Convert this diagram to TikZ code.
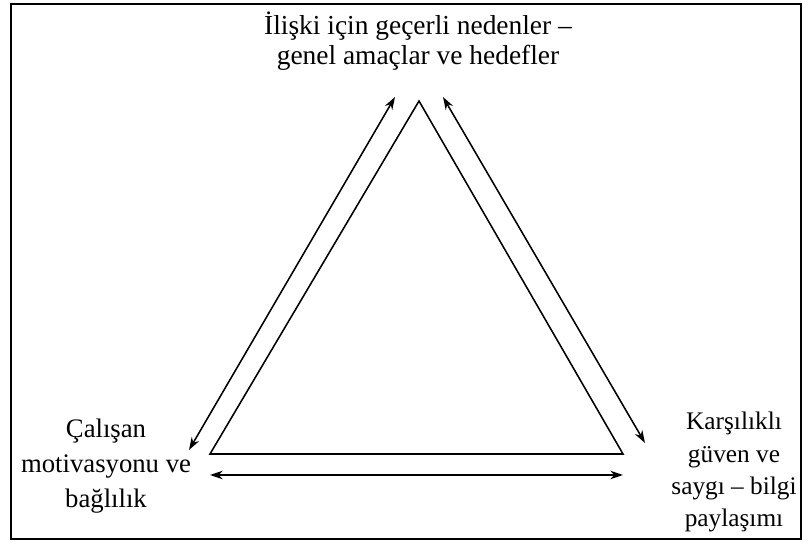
\documentclass[tikz,border=0pt]{standalone}
\usepackage{fontspec}
\setmainfont{Liberation Serif}
\usetikzlibrary{arrows.meta}

\tikzset{
  label text/.style={align=center, inner sep=0pt},
  link/.style={{Stealth[length=9pt,width=6pt]}-{Stealth[length=9pt,width=6pt]}, line width=1.1pt},
}

\begin{document}
\begin{tikzpicture}[x=0.025cm, y=-0.025cm, line width=1.1pt]
  \useasboundingbox (0,0) rectangle (803,543);
  \draw[line width=1.6pt] (11,4) rectangle (801,539);

  % labels at the three corners
  \node[label text, font=\fontsize{19.5}{21.3}\selectfont] (goals) at (418,41) {İlişki için geçerli nedenler –\\genel amaçlar ve hedefler};
  \node[label text, font=\fontsize{19}{24.9}\selectfont] (staff) at (106,466) {Çalışan\\motivasyonu ve\\bağlılık};
  \node[label text, font=\fontsize{18}{22.8}\selectfont] (trust) at (734,472) {Karşılıklı\\güven ve\\saygı – bilgi\\paylaşımı};

  % triangle
  \coordinate (top) at (419,101);
  \coordinate (left) at (210,454);
  \coordinate (right) at (623,454);
  \draw (top) -- (left) -- (right) -- cycle;

  % two-way arrows along the sides
  \coordinate (a1) at (395,97);
  \coordinate (a2) at (189,450);
  \coordinate (b1) at (443,97);
  \coordinate (b2) at (645,443);
  \coordinate (c1) at (210,475);
  \coordinate (c2) at (623,475);
  \draw[link] (a1) -- (a2);
  \draw[link] (b1) -- (b2);
  \draw[link] (c1) -- (c2);
\end{tikzpicture}
\end{document}
